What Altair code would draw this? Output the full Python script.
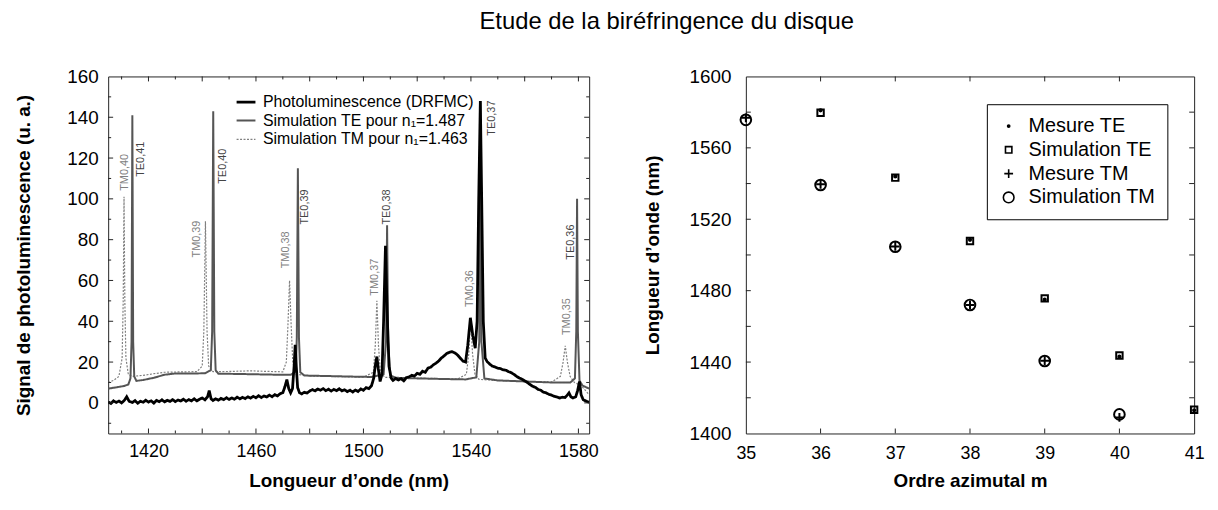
import altair as alt
import pandas as pd

FONT = "Liberation Sans"

# ------------------------------------------------------------------ left panel data
pl_x = [1405, 1406, 1407, 1408, 1409, 1410, 1411, 1411.9, 1412.8, 1414, 1415, 1416, 1417, 1418, 1419,
        1420, 1421, 1422, 1423, 1424, 1425, 1426, 1427, 1428, 1429, 1430, 1431, 1432, 1433, 1434,
        1435, 1436, 1437, 1438, 1439, 1440, 1441, 1442, 1442.6, 1443.3, 1444, 1445, 1446, 1447, 1448,
        1449, 1450, 1451, 1452, 1453, 1454, 1455, 1456, 1457, 1458, 1459, 1460, 1461, 1462, 1463,
        1464, 1465, 1466, 1467, 1468, 1469, 1470, 1470.8, 1471.5, 1472.2, 1472.9, 1473.6, 1474.2,
        1474.6, 1475.0, 1475.5, 1476.2, 1477, 1478, 1479, 1480, 1481, 1482, 1483, 1484, 1485, 1486,
        1487, 1488, 1489, 1490, 1491, 1492, 1493, 1494, 1495, 1496, 1497, 1498, 1499, 1500, 1501,
        1502, 1503, 1503.8, 1504.5, 1505.0, 1505.5, 1506.2, 1506.9, 1507.5, 1508.2, 1508.8, 1509.5,
        1510.3, 1511, 1512, 1513, 1514, 1515, 1516, 1517, 1518, 1519, 1520, 1521, 1522, 1523, 1524,
        1525, 1526, 1527, 1528, 1529, 1530, 1531, 1532, 1533, 1534, 1535, 1536, 1537, 1538, 1538.8,
        1539.8, 1540.7, 1541.6, 1542.3, 1542.9, 1543.5, 1544.0, 1544.6, 1545.3, 1546, 1547, 1548,
        1549, 1550, 1551, 1552, 1553, 1554, 1555, 1556, 1557, 1558, 1559, 1560, 1561, 1562, 1563,
        1564, 1565, 1566, 1567, 1568, 1569, 1570, 1571, 1572, 1573, 1574, 1575, 1576, 1576.5, 1577.2,
        1578, 1579, 1579.7, 1580.4, 1581.0, 1581.8, 1583, 1584]
pl_y = [0.5, -0.3, 1.0, 0.2, 0.9, 0.0, 1.2, 3.0, 0.8, 0.2, 1.1, -0.2, 0.8, 0.3, 1.3,
        0.4, 1.0, -0.1, 1.2, 0.6, 1.5, 0.5, 1.3, 0.7, 1.6, 0.6, 1.4, 0.9, 1.8, 0.8,
        1.6, 1.0, 2.0, 1.0, 1.8, 2.4, 1.5, 3.0, 6.0, 2.0, 1.2, 2.0, 1.3, 2.2, 1.6,
        2.5, 1.7, 2.4, 1.8, 2.8, 2.0, 2.7, 2.1, 3.0, 2.3, 3.2, 2.5, 3.5, 2.6, 3.4,
        2.9, 3.8, 3.0, 4.0, 3.4, 4.5, 5.0, 8.0, 11.4, 7.0, 4.9, 7.0, 18.0,
        28.4, 18.0, 7.5, 5.0, 4.4, 5.2, 4.8, 5.8, 6.5, 5.9, 6.8, 6.2, 7.0, 6.0,
        6.7, 5.8, 6.6, 6.0, 6.9, 5.9, 6.4, 5.5, 6.2, 5.3, 6.3, 5.6, 6.8, 6.2, 7.5,
        7.0, 8.4, 12.0, 19.0, 22.7, 17.0, 10.5, 14.0, 40.0, 77.0, 45.0, 18.0,
        12.2, 11.0, 12.0, 11.2, 11.9, 10.8, 12.4, 12.8, 13.5, 13.2, 14.5, 14.0, 15.5, 15.0, 17.0,
        17.5, 18.6, 19.5, 20.5, 22.0, 23.0, 24.2, 24.8, 25.1, 24.5, 23.5, 22.0, 20.5, 20.0, 28.0,
        41.7, 33.0, 26.8, 40.0, 100.0, 148.0, 100.0, 40.0, 22.0, 20.3, 19.0, 18.0,
        17.6, 17.0, 16.8, 16.2, 16.0, 15.3, 14.8, 14.0, 13.0, 12.2, 11.6, 10.8, 10.0, 9.0, 8.1,
        7.6, 6.6, 6.2, 5.2, 4.9, 4.2, 3.8, 3.2, 2.9, 2.4, 2.8, 2.6, 4.0, 4.9, 3.0,
        2.4, 3.0, 6.0, 10.5, 4.0, 1.5, 0.8, 0.2]

te_x = [1405, 1408, 1411, 1412.5, 1413.3, 1413.7, 1414.0, 1414.3, 1414.7, 1415.5, 1418, 1422, 1426,
        1430, 1436, 1441, 1443.2, 1443.7, 1444.1, 1444.5, 1445.0, 1446, 1452, 1460, 1468, 1473,
        1474.8, 1475.2, 1475.6, 1476.0, 1476.5, 1478, 1485, 1495, 1503, 1507.5, 1508.4, 1508.8,
        1509.2, 1510, 1512, 1520, 1530, 1538, 1542, 1543.1, 1543.5, 1543.9, 1545, 1550, 1560,
        1570, 1577, 1578.7, 1579.2, 1579.5, 1579.8, 1580.4, 1581.5, 1584]
te_y = [7.0, 7.6, 8.3, 9.0, 12.0, 30.0, 141.0, 30.0, 13.0, 10.8, 11.2, 12.3, 13.8,
        14.4, 14.4, 14.5, 16.0, 35.0, 143.0, 35.0, 16.0, 14.3, 14.2, 14.0, 13.8, 13.8,
        15.5, 32.0, 115.0, 32.0, 15.0, 13.4, 13.2, 12.9, 12.7, 14.0, 30.0, 87.0,
        30.0, 13.5, 12.3, 12.0, 11.7, 11.5, 12.5, 30.0, 148.0, 30.0, 12.0, 11.0, 10.5,
        10.0, 10.0, 12.0, 35.0, 100.0, 35.0, 11.0, 8.5, 7.0]

tm_x = [1405, 1407, 1409, 1410.2, 1410.6, 1410.9, 1411.2, 1411.6, 1412.5, 1414, 1418, 1422, 1426,
        1432, 1438, 1440.0, 1440.6, 1441.2, 1441.8, 1442.4, 1444, 1450, 1458, 1465, 1470, 1471.3,
        1471.9, 1472.5, 1473.1, 1473.7, 1475, 1480, 1490, 1500, 1503.7, 1504.4, 1505.0, 1505.6,
        1506.3, 1508, 1515, 1525, 1535, 1538.3, 1539.2, 1539.9, 1540.6, 1541.5, 1543, 1550, 1560,
        1570, 1573.3, 1574.3, 1575.1, 1575.9, 1576.9, 1578.5, 1581, 1584]
tm_y = [10.0, 11.0, 13.0, 22.0, 50.0, 101.0, 50.0, 22.0, 14.0, 13.0, 13.5, 14.3, 15.0,
        15.2, 15.3, 18.0, 35.0, 89.0, 35.0, 18.0, 15.3, 15.4, 15.7, 15.4, 15.2, 20.0,
        38.0, 60.0, 38.0, 20.0, 14.0, 13.2, 12.9, 12.6, 15.0, 28.0, 50.0, 28.0,
        15.0, 12.5, 12.3, 12.0, 11.7, 14.0, 24.0, 41.0, 24.0, 14.0, 11.5, 11.0, 10.5,
        10.2, 13.0, 20.0, 28.0, 20.0, 13.0, 10.0, 8.5, 4.0]

series_names = ["Photoluminescence (DRFMC)", "Simulation TE pour n\u2081=1.487",
                "Simulation TM pour n\u2081=1.463"]

te_lab_text = ["TE0,41", "TE0,40", "TE0,39", "TE0,38", "TE0,37", "TE0,36"]
te_lab_x = [1417.4, 1447.8, 1478.3, 1508.7, 1547.8, 1577.3]
te_lab_y = [119.4, 116.0, 96.0, 96.0, 139.6, 78.8]
tm_lab_text = ["TM0,40", "TM0,39", "TM0,38", "TM0,37", "TM0,36", "TM0,35"]
tm_lab_x = [1411.3, 1438.1, 1471.3, 1504.2, 1539.6, 1575.7]
tm_lab_y = [113.0, 80.3, 75.0, 61.6, 56.0, 42.3]

x_labels_left = [1420, 1460, 1500, 1540, 1580]
y_labels_left = [0, 20, 40, 60, 80, 100, 120, 140, 160]
x_major_left = [1420, 1440, 1460, 1480, 1500, 1520, 1540, 1560, 1580]
x_minor_left = [1410, 1430, 1450, 1470, 1490, 1510, 1530, 1550, 1570]
y_major_left = [0, 20, 40, 60, 80, 100, 120, 140]
y_minor_left = [-10, 10, 30, 50, 70, 90, 110, 130, 150]

# ------------------------------------------------------------------ right panel data
m_sim_te = [36, 37, 38, 39, 40, 41]
wl_sim_te = [1579.7, 1543.3, 1507.8, 1475.7, 1443.7, 1413.3]
m_mes_te = [36, 37, 38, 39, 40, 41]
wl_mes_te = [1581.0, 1544.0, 1508.5, 1475.0, 1443.0, 1413.0]
m_sim_tm = [35, 36, 37, 38, 39, 40]
wl_sim_tm = [1575.7, 1539.2, 1504.6, 1472.0, 1440.6, 1410.7]
m_mes_tm = [35, 36, 37, 38, 39, 40]
wl_mes_tm = [1576.8, 1539.6, 1504.8, 1472.0, 1440.8, 1409.0]

pt_series = ["Mesure TE", "Simulation TE", "Mesure TM", "Simulation TM"]
x_labels_right = [35, 36, 37, 38, 39, 40, 41]
y_labels_right = [1400, 1440, 1480, 1520, 1560, 1600]
x_ticks_right = [36, 37, 38, 39, 40]
y_ticks_right = [1420, 1440, 1460, 1480, 1500, 1520, 1540, 1560, 1580]

# ------------------------------------------------------------------ geometry / style
WL, HL = 485, 360
WR, HR = 452, 360
XDOM_L = [1405, 1584]
YDOM_L = [-15, 160]
XDOM_R = [35, 41]
YDOM_R = [1400, 1600]
FRAME = "#222222"

AX_COMMON = dict(grid=False, ticks=False, domain=False, titleFontSize=19,
                 titleFontWeight="bold", labelColor="black", titleColor="black",
                 labelFlush=False, labelFont=FONT, titleFont=FONT, format="d")

axis_xL = alt.Axis(values=x_labels_left, title="Longueur d\u2019onde (nm)", labelPadding=9,
                   titlePadding=11, labelFontSize=18, **AX_COMMON)
axis_yL = alt.Axis(values=y_labels_left, title="Signal de photoluminescence (u. a.)",
                   labelPadding=10, titlePadding=34, labelFontSize=19, **AX_COMMON)
axis_xR = alt.Axis(values=x_labels_right, title="Ordre azimutal m", labelPadding=11,
                   titlePadding=9, labelFontSize=18, **AX_COMMON)
axis_yR = alt.Axis(values=y_labels_right, title="Longueur d\u2019onde (nm)", labelPadding=15,
                   titlePadding=27, labelFontSize=19, **AX_COMMON)


def sc(dom):
    return alt.Scale(domain=dom, nice=False, zero=False)


def tick_rules(values, fx, fy, side, length, xdom, ydom, xaxis, yaxis, W, H):
    if side in ("bottom", "top"):
        df = pd.DataFrame({fx: values})
        enc = dict(x=alt.X(f"{fx}:Q", scale=sc(xdom), axis=xaxis))
        if side == "bottom":
            enc.update(y=alt.value(H), y2=alt.value(H - length))
        else:
            enc.update(y=alt.value(0), y2=alt.value(length))
    else:
        df = pd.DataFrame({fy: values})
        enc = dict(y=alt.Y(f"{fy}:Q", scale=sc(ydom), axis=yaxis))
        if side == "left":
            enc.update(x=alt.value(0), x2=alt.value(length))
        else:
            enc.update(x=alt.value(W), x2=alt.value(W - length))
    return alt.Chart(df).mark_rule(color=FRAME, strokeWidth=1).encode(**enc)


# ------------------------------------------------------------------ left chart
line_df = pd.concat([
    pd.DataFrame({"x": tm_x, "y": tm_y, "series": series_names[2], "o": 0}),
    pd.DataFrame({"x": te_x, "y": te_y, "series": series_names[1], "o": 1}),
    pd.DataFrame({"x": pl_x, "y": pl_y, "series": series_names[0], "o": 2}),
], ignore_index=True)

xL = alt.X("x:Q", scale=sc(XDOM_L), axis=axis_xL)
yL = alt.Y("y:Q", scale=sc(YDOM_L), axis=axis_yL)

leg_l = alt.Legend(title=None, orient="none", legendX=128, legendY=15, symbolType="stroke",
                   symbolSize=361, labelFontSize=16, labelOffset=6, rowPadding=0, padding=0,
                   labelColor="black", labelFont=FONT, labelLimit=0)
lines = alt.Chart(line_df).mark_line(clip=True, interpolate="linear").encode(
    x=xL, y=yL,
    color=alt.Color("series:N", scale=alt.Scale(domain=series_names,
                                                range=["#000000", "#555555", "#808080"]),
                    legend=leg_l),
    strokeDash=alt.StrokeDash("series:N", scale=alt.Scale(domain=series_names,
                                                          range=[[1, 0], [1, 0], [2, 1.5]]),
                              legend=leg_l),
    strokeWidth=alt.StrokeWidth("series:N", scale=alt.Scale(domain=series_names,
                                                            range=[2.8, 1.2, 1.0]),
                                legend=leg_l),
    order="o:Q",
)

te_lab_df = pd.DataFrame({"x": te_lab_x, "y": te_lab_y, "t": te_lab_text})
tm_lab_df = pd.DataFrame({"x": tm_lab_x, "y": tm_lab_y, "t": tm_lab_text})
te_labels = alt.Chart(te_lab_df).mark_text(angle=270, fontSize=11, color="#444444",
                                           font=FONT, align="center",
                                           baseline="middle").encode(x=xL, y=yL, text="t:N")
tm_labels = alt.Chart(tm_lab_df).mark_text(angle=270, fontSize=11, color="#808080",
                                           font=FONT, align="center",
                                           baseline="middle").encode(x=xL, y=yL, text="t:N")

tk_l = dict(fx="x", fy="y", xdom=XDOM_L, ydom=YDOM_L, xaxis=axis_xL, yaxis=axis_yL, W=WL, H=HL)
left = alt.layer(
    lines, te_labels, tm_labels,
    tick_rules(x_major_left, side="bottom", length=5, **tk_l),
    tick_rules(x_minor_left, side="bottom", length=3, **tk_l),
    tick_rules(x_major_left, side="top", length=5, **tk_l),
    tick_rules(x_minor_left, side="top", length=3, **tk_l),
    tick_rules(y_major_left, side="left", length=5, **tk_l),
    tick_rules(y_minor_left, side="left", length=3, **tk_l),
    tick_rules(y_major_left, side="right", length=5, **tk_l),
    tick_rules(y_minor_left, side="right", length=3, **tk_l),
).properties(width=WL, height=HL)

# ------------------------------------------------------------------ right chart
pt_df = pd.concat([
    pd.DataFrame({"m": m_sim_te, "wl": wl_sim_te, "series": "Simulation TE"}),
    pd.DataFrame({"m": m_sim_tm, "wl": wl_sim_tm, "series": "Simulation TM"}),
    pd.DataFrame({"m": m_mes_tm, "wl": wl_mes_tm, "series": "Mesure TM"}),
    pd.DataFrame({"m": m_mes_te, "wl": wl_mes_te, "series": "Mesure TE"}),
], ignore_index=True)

xR = alt.X("m:Q", scale=sc(XDOM_R), axis=axis_xR)
yR = alt.Y("wl:Q", scale=sc(YDOM_R), axis=axis_yR)

PLUS = "M-1,0H1M0,-1V1"
leg_r = alt.Legend(title=None, orient="none", legendX=243, legendY=28, labelFontSize=20,
                   labelColor="black", labelFont=FONT, fillColor="white", strokeColor="black",
                   padding=12, labelOffset=10, rowPadding=4, symbolStrokeWidth=1.6,
                   labelLimit=0)
points = alt.Chart(pt_df).mark_point(strokeWidth=2, opacity=1).encode(
    x=xR, y=yR,
    shape=alt.Shape("series:N", scale=alt.Scale(domain=pt_series,
                                                range=["circle", "square", PLUS, "circle"]),
                    legend=leg_r),
    size=alt.Size("series:N", scale=alt.Scale(domain=pt_series, range=[5, 115, 190, 125]),
                  legend=leg_r),
    fill=alt.Fill("series:N", scale=alt.Scale(domain=pt_series,
                                              range=["black", "transparent", "transparent",
                                                     "transparent"]),
                  legend=leg_r),
    stroke=alt.Stroke("series:N", scale=alt.Scale(domain=pt_series,
                                                  range=["black", "black", "black", "black"]),
                      legend=leg_r),
)

tk_r = dict(fx="m", fy="wl", xdom=XDOM_R, ydom=YDOM_R, xaxis=axis_xR, yaxis=axis_yR, W=WR, H=HR)
right = alt.layer(
    points,
    tick_rules(x_ticks_right, side="bottom", length=5, **tk_r),
    tick_rules(x_ticks_right, side="top", length=5, **tk_r),
    tick_rules(y_ticks_right, side="left", length=5, **tk_r),
    tick_rules(y_ticks_right, side="right", length=5, **tk_r),
).properties(width=WR, height=HR)

chart = alt.hconcat(left, right, spacing=44).resolve_scale(
    color="independent", shape="independent", size="independent", fill="independent",
    stroke="independent", strokeWidth="independent", strokeDash="independent"
).resolve_legend(
    color="independent", shape="independent", size="independent", fill="independent",
    stroke="independent", strokeWidth="independent", strokeDash="independent"
).properties(
    title=alt.TitleParams("Etude de la bir\u00e9fringence du disque", fontSize=24,
                          fontWeight="normal", font=FONT, anchor="middle", dx=58, offset=33,
                          color="black"),
    padding={"left": 5, "top": 0, "right": 5, "bottom": 0},
).configure(font=FONT).configure_view(stroke=FRAME, strokeWidth=1)

chart.save("out.html", embed_options={"renderer": "svg", "actions": False})
